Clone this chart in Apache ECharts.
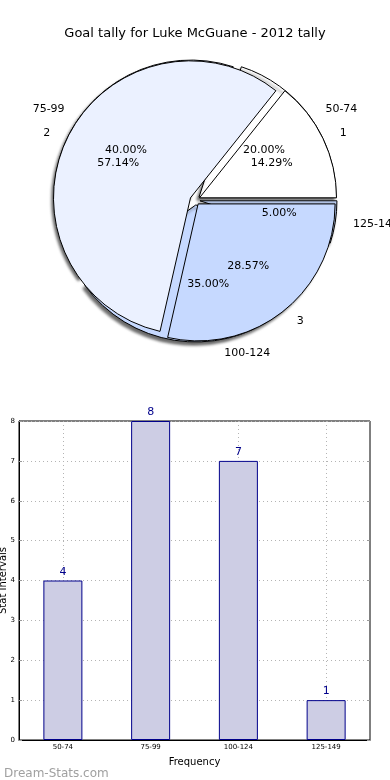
<!DOCTYPE html>
<html>
<head>
<meta charset="utf-8">
<script src="https://cdn.jsdelivr.net/npm/echarts@6/dist/echarts.min.js"></script>
<style>
html,body{margin:0;padding:0;background:#fff;}
#main{width:390px;height:780px;}
</style>
</head>
<body>
<div id="main"></div>
<script>
// ---- data ----
var titleText = 'Goal tally for Luke McGuane - 2012 tally';
var categories = ['50-74', '75-99', '100-124', '125-149'];
var frequency = [4, 8, 7, 1];
var pie2Labels = ['1', '2', '3'];
var pie2Values = [1, 4, 2];
var sliceColors = ['#ffffff', '#ebf1ff', '#c6d9ff', '#c6d9ff'];
var yTicks = [0, 1, 2, 3, 4, 5, 6, 7, 8];
var watermark = 'Dream-Stats.com';

var FONT = 'DejaVu Sans';
var CX = 195, CY = 200, R = 137;

var chart = echarts.init(document.getElementById('main'), null, {renderer: 'canvas'});

function pieData(names, values, sel) {
  return names.map(function (n, i) {
    return {name: n, value: values[i], selected: sel, itemStyle: {color: sliceColors[i]}};
  });
}
function pctData(names, values) {
  return names.map(function (n, i) { return {name: n, value: values[i]}; });
}

var baseLabelOut = {
  show: true, position: 'outside', color: '#000', fontFamily: FONT, fontSize: 11,
  width: 70, overflow: 'none', alignTo: 'none'
};

var pctLabel = {
  show: true, position: 'inside', color: '#000', fontFamily: FONT, fontSize: 11,
  formatter: function (p) { return p.percent.toFixed(2) + '%'; }
};

var option = {
  animation: false,
  title: [
    {text: titleText, left: 'center', top: 22,
     textStyle: {fontFamily: FONT, fontSize: 13, fontWeight: 'normal', color: '#000'}},
    {text: watermark, left: -1, top: 763,
     textStyle: {fontFamily: FONT, fontSize: 12, fontWeight: 'normal', color: '#a0a0a0'}}
  ],
  grid: {left: 19, top: 421, width: 351, height: 319, containLabel: false, outerBoundsMode: 'none',
    show: true, borderColor: '#000', borderWidth: 1, backgroundColor: 'transparent'},
  xAxis: [{
    type: 'category', data: categories, gridIndex: 0,
    axisLine: {lineStyle: {color: '#000'}},
    axisTick: {show: true, inside: true, alignWithLabel: true, length: 3, lineStyle: {color: '#999'}},
    axisLabel: {fontFamily: FONT, fontSize: 7, color: '#000', margin: 4},
    splitLine: {show: true, alignWithLabel: true, lineStyle: {color: '#b4b4b4', type: [1, 3]}},
    name: 'Frequency', nameLocation: 'middle', nameGap: 17, nameMoveOverlap: false,
    nameTextStyle: {fontFamily: FONT, fontSize: 10, color: '#000'}
  }],
  yAxis: [{
    type: 'value', min: yTicks[0], max: yTicks[yTicks.length - 1], interval: 1,
    axisLine: {show: true, lineStyle: {color: '#000'}},
    axisTick: {show: true, inside: true, length: 3, lineStyle: {color: '#999'}},
    axisLabel: {fontFamily: FONT, fontSize: 7, color: '#000', margin: 4},
    splitLine: {show: true, lineStyle: {color: '#b4b4b4', type: [1, 3]}},
    name: 'Stat Intervals', nameLocation: 'middle', nameGap: 11, nameRotate: 90, nameMoveOverlap: false,
    nameTextStyle: {fontFamily: FONT, fontSize: 10, color: '#000'}
  }, {
    type: 'value', position: 'right', min: yTicks[0], max: yTicks[yTicks.length - 1], interval: 1,
    axisLine: {show: false}, axisLabel: {show: false}, splitLine: {show: false},
    axisTick: {show: true, inside: true, length: 3, lineStyle: {color: '#999'}}
  }],
  series: [
    {
      type: 'pie', center: [CX, CY], radius: [0, R], startAngle: 0, clockwise: false,
      selectedMode: 'multiple', selectedOffset: 5, avoidLabelOverlap: false, silent: true,
      z: 1,
      itemStyle: {borderColor: '#000', borderWidth: 1,
        shadowBlur: 3, shadowColor: 'rgba(0,0,0,0.6)', shadowOffsetX: -2, shadowOffsetY: 3},
      label: baseLabelOut,
      labelLine: {show: false, length: 13, length2: 0},
      emphasis: {disabled: true},
      data: pieData(categories, frequency, true)
    },
    {
      type: 'pie', center: [CX, CY], radius: [0, R], startAngle: 0, clockwise: false,
      selectedMode: 'multiple', selectedOffset: 5, avoidLabelOverlap: false, silent: true,
      z: 2,
      itemStyle: {borderColor: '#000', borderWidth: 1},
      label: baseLabelOut,
      labelLine: {show: false, length: 13, length2: 0},
      emphasis: {disabled: true},
      data: pieData(pie2Labels, pie2Values, true)
    },
    {
      type: 'pie', center: [CX, CY], radius: [0, R * 1.2], startAngle: 0, clockwise: false,
      avoidLabelOverlap: false, silent: true, z: 3,
      itemStyle: {color: 'rgba(0,0,0,0)', borderWidth: 0},
      label: pctLabel, labelLine: {show: false},
      emphasis: {disabled: true},
      data: pctData(categories, frequency)
    },
    {
      type: 'pie', center: [CX, CY], radius: [0, R * 1.2], startAngle: 0, clockwise: false,
      avoidLabelOverlap: false, silent: true, z: 3,
      itemStyle: {color: 'rgba(0,0,0,0)', borderWidth: 0},
      label: pctLabel, labelLine: {show: false},
      emphasis: {disabled: true},
      data: pctData(pie2Labels, pie2Values)
    },
    {
      type: 'bar', xAxisIndex: 0, yAxisIndex: 0, data: frequency, barWidth: 39,
      itemStyle: {color: '#cdcde4', borderColor: '#00008b', borderWidth: 1},
      label: {show: true, position: 'top', distance: 3, color: '#00008b', fontFamily: FONT, fontSize: 11},
      emphasis: {disabled: true}, z: 2
    }
  ]
};
chart.setOption(option);
</script>
</body>
</html>
